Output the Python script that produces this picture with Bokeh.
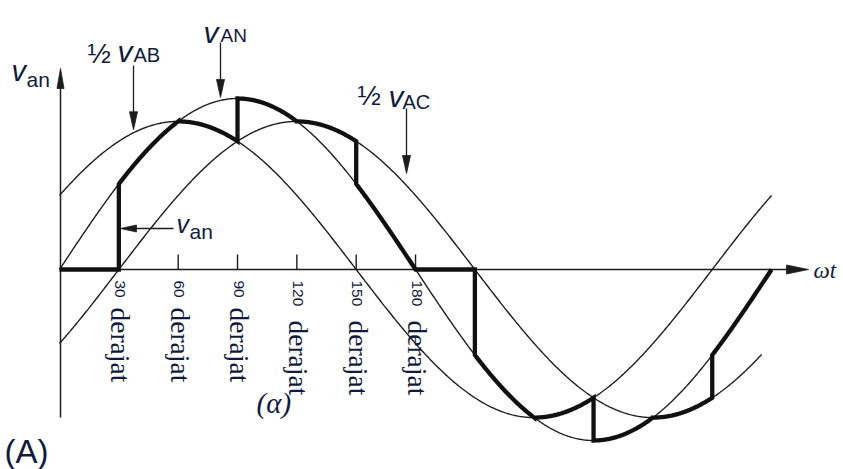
import numpy as np
from bokeh.plotting import figure
from bokeh.models import Range1d
from bokeh.core.properties import value
from bokeh.embed import file_html
from bokeh.resources import INLINE

# --- waveform definitions (phase in degrees, amplitude relative to v_AN) ---
WAVE_NAMES = ["vAN", "hAB", "hAC"]
WAVE_PHASE = [0.0, 30.0, -30.0]
WAVE_AMP = [1.0, 0.866, 0.866]
WAVE_END = [360.0, 360.0, 355.0]

# output voltage v_an for a firing angle of 30 degrees: (from, to, source)
SEG_FROM = [0, 30, 60, 90, 120, 150, 180, 210, 240, 270, 300, 330]
SEG_TO = [30, 60, 90, 120, 150, 180, 210, 240, 270, 300, 330, 360]
SEG_SRC = ["zero", "vAN", "hAB", "vAN", "hAC", "vAN",
           "zero", "vAN", "hAB", "vAN", "hAC", "vAN"]

TICK_DEG = [30, 60, 90, 120, 150, 180]
TICK_LABELS = ["30", "60", "90", "120", "150", "180"]
TICK_UNIT = "derajat"

# --- drawing geometry (pixel placement of the 0 deg / 0 V origin) ---
W, H = 843, 469
X0, SX = 59.0, 1.978     # px at 0 deg, px per degree
Y0, SY = 269.0, 171.0    # px at 0 V, px per unit amplitude


def dx(px):
    return (px - X0) / SX


def dy(py):
    return (Y0 - py) / SY


def wave(name, th):
    i = WAVE_NAMES.index(name)
    return WAVE_AMP[i] * np.sin(np.radians(th + WAVE_PHASE[i]))


INK = "#1c1c1c"
TXT = "#121a3c"

p = figure(width=W, height=H, output_backend="svg", toolbar_location=None,
           x_axis_location=None, y_axis_location=None,
           x_range=Range1d(dx(0), dx(W)), y_range=Range1d(dy(H), dy(0)),
           min_border=0)
p.grid.visible = False
p.outline_line_color = None
p.background_fill_color = "white"
p.border_fill_color = "white"


def seg(p0, p1, width=1.4, color=INK):
    p.line([dx(p0[0]), dx(p1[0])], [dy(p0[1]), dy(p1[1])],
           line_width=width, line_color=color)


def head(tip, direction, length, width, color=INK):
    d = np.array(direction, dtype=float)
    d /= np.linalg.norm(d)
    n = np.array([-d[1], d[0]])
    t = np.array(tip, dtype=float)
    b = t - d * length
    pts = [t, b + n * width / 2, b - n * width / 2]
    p.patch([dx(q[0]) for q in pts], [dy(q[1]) for q in pts],
            fill_color=color, line_color=color, line_width=0.8)


def put(txt, px, py, size, font="Liberation Sans", style="normal",
        align="left", baseline="alphabetic", angle=0.0):
    p.text(x=[dx(px)], y=[dy(py)], text=[txt], text_font=value(font),
           text_font_size=f"{size}px", text_font_style=style,
           text_align=align, text_baseline=baseline, angle=angle,
           text_color=TXT)


# axes
seg((60, 417), (60, 80), width=1.5)
head((60, 68), (0, -1), 20, 7)
seg((60, Y0), (795, Y0), width=1.5)
head((808, Y0), (1, 0), 22, 9)

# degree ticks
for d in TICK_DEG:
    p.line([d, d], [0, dy(Y0 - 15)], line_width=1.4, line_color=INK)

# thin waveforms
for name, end in zip(WAVE_NAMES, WAVE_END):
    th = np.linspace(0, end, int(end) * 2 + 1)
    p.line(th, wave(name, th), line_width=1.4, line_color=INK)

# thick output waveform
ox, oy = [], []
for a, b, src in zip(SEG_FROM, SEG_TO, SEG_SRC):
    th = np.linspace(a, b, (b - a) * 2 + 1)
    v = np.zeros_like(th) if src == "zero" else wave(src, th)
    ox.extend(th)
    oy.extend(v)
p.line(ox, oy, line_width=4.3, line_color="#111111", line_join="miter")

# tick labels, rotated
for d, lab in zip(TICK_DEG, TICK_LABELS):
    xp = X0 + d * SX + 1
    put(lab, xp, 280, 15.5, angle=-np.pi / 2, baseline="middle")
    start = 307 if len(lab) == 2 else 320
    put(TICK_UNIT, xp + 1, start, 27.5, font="Liberation Serif",
        angle=-np.pi / 2, baseline="middle")

# pointer arrows onto the curves
def pointer(px, top, name, gap=3):
    tip = Y0 - SY * wave(name, dx(px)) - gap
    seg((px, top), (px, tip - 14), width=1.3)
    head((px, tip), (0, 1), 18, 8)


pointer(133, 65, "hAB")
pointer(220, 42, "vAN")
pointer(406, 108, "hAC", gap=12)

# horizontal pointer to the output jump at 30 deg
seg((173, 228), (132, 228), width=1.3)
head((120, 228), (-1, 0), 16, 7)

# curve labels
put("v", 11, 70, 29, style="italic")
put("an", 26, 79, 21)

put("½", 87, 53, 28)
put("v", 117, 51, 30, style="italic")
put("AB", 133, 54, 20)

put("v", 203, 32, 30, style="italic")
put("AN", 220, 35, 19)

put("½", 357, 95, 28)
put("v", 388, 96, 30, style="italic")
put("AC", 402, 101, 20)

put("v", 176, 223, 25, style="italic")
put("an", 189, 231, 21)

put("ωt", 813, 270, 23, font="Liberation Serif", style="italic",
    baseline="middle")
put("(α)", 256, 402, 29, font="Liberation Serif", style="italic",
    baseline="middle")
put("(A)", 4, 451, 33, baseline="middle")

open("out.html", "w").write(file_html(p, INLINE))
